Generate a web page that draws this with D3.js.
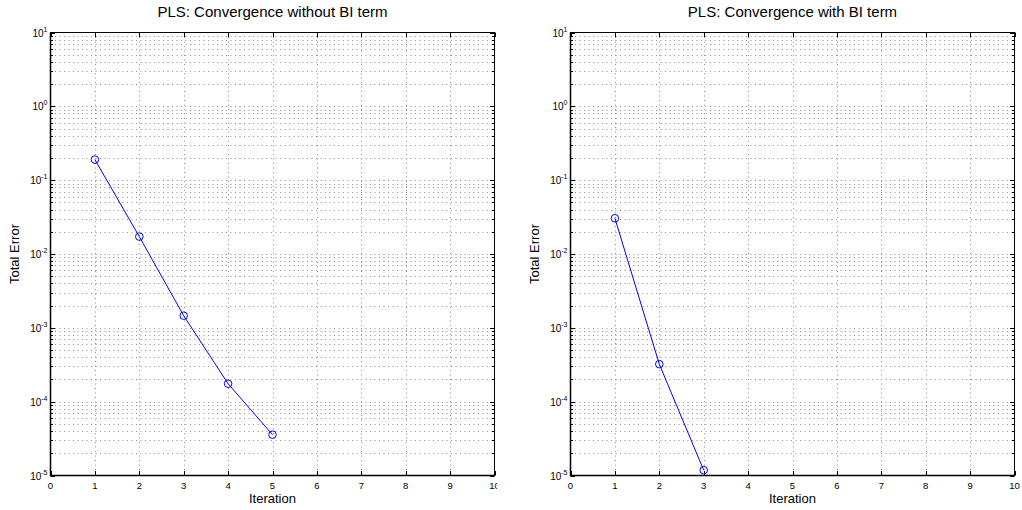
<!DOCTYPE html>
<html><head><meta charset="utf-8">
<script src="https://cdn.jsdelivr.net/npm/d3@7"></script>
<style>
body{margin:0;background:#fff;}
text{font-family:"Liberation Sans",Arial,Helvetica,sans-serif;fill:#000;}
</style></head>
<body>
<svg id="chart" width="1022" height="510"></svg>
<script>
const iterationsLeft = [1, 2, 3, 4, 5];
const errorLeft = [0.19, 0.0172, 0.00146, 0.000175, 0.0000357];
const iterationsRight = [1, 2, 3];
const errorRight = [0.0305, 0.000322, 0.0000118];
const xTicks = [0,1,2,3,4,5,6,7,8,9,10];
const yExponents = [1,0,-1,-2,-3,-4,-5];
const titles = ["PLS: Convergence without BI term", "PLS: Convergence with BI term"];
const xLabel = "Iteration";
const yLabel = "Total Error";

(function(){
const svg = d3.select("#chart");
const panels = [
  {left:50.5, right:494.5, xs:iterationsLeft, ys:errorLeft, title:titles[0], clip:497},
  {left:570.5, right:1014.5, xs:iterationsRight, ys:errorRight, title:titles[1], clip:1022}
];
const plotTop = 32.5, plotBottom = 475.5;

panels.forEach((p,i)=>{
  const x = d3.scaleLinear().domain([0,10]).range([p.left,p.right]);
  const y = d3.scaleLog().domain([1e-5,10]).range([plotBottom,plotTop]);
  const clipId = "clip"+i;
  svg.append("clipPath").attr("id",clipId).append("rect").attr("x",0).attr("y",0).attr("width",p.clip).attr("height",510);
  const g = svg.append("g").attr("clip-path",`url(#${clipId})`);

  const yGrid = [];
  for (let e=-5; e<1; e++) for (let m=1; m<=9; m++) yGrid.push(m*Math.pow(10,e));
  yGrid.push(10);
  g.append("g").selectAll("line").data(yGrid.slice(1,-1)).join("line")
    .attr("x1",p.left).attr("x2",p.right)
    .attr("y1",d=>Math.round(y(d))+0.5).attr("y2",d=>Math.round(y(d))+0.5)
    .attr("stroke","#909090").attr("stroke-width",1).attr("stroke-dasharray","1,3.5");
  g.append("g").selectAll("line").data(xTicks.slice(1,-1)).join("line")
    .attr("x1",d=>Math.round(x(d))+0.5).attr("x2",d=>Math.round(x(d))+0.5)
    .attr("y1",plotTop).attr("y2",plotBottom)
    .attr("stroke","#909090").attr("stroke-width",1).attr("stroke-dasharray","1,3.5");

  const tickLen = d=> (Math.abs(Math.log10(d) - Math.round(Math.log10(d)))<1e-9) ? 4.5 : 2.5;
  g.append("g").selectAll("line").data(yGrid).join("line")
    .attr("x1",p.left).attr("x2",d=>p.left+tickLen(d))
    .attr("y1",d=>Math.round(y(d))+0.5).attr("y2",d=>Math.round(y(d))+0.5)
    .attr("stroke","#000");
  g.append("g").selectAll("line").data(yGrid).join("line")
    .attr("x1",p.right).attr("x2",d=>p.right-tickLen(d))
    .attr("y1",d=>Math.round(y(d))+0.5).attr("y2",d=>Math.round(y(d))+0.5)
    .attr("stroke","#000");
  g.append("g").selectAll("line").data(xTicks).join("line")
    .attr("x1",d=>Math.round(x(d))+0.5).attr("x2",d=>Math.round(x(d))+0.5)
    .attr("y1",plotBottom).attr("y2",plotBottom-4.5).attr("stroke","#000");
  g.append("g").selectAll("line").data(xTicks).join("line")
    .attr("x1",d=>Math.round(x(d))+0.5).attr("x2",d=>Math.round(x(d))+0.5)
    .attr("y1",plotTop).attr("y2",plotTop+4.5).attr("stroke","#000");

  g.append("rect").attr("x",p.left).attr("y",plotTop).attr("width",p.right-p.left).attr("height",plotBottom-plotTop)
    .attr("fill","none").attr("stroke","#000").attr("stroke-width",1);
  g.append("line").attr("x1",p.left).attr("x2",p.right).attr("y1",plotBottom).attr("y2",plotBottom).attr("stroke","#000").attr("stroke-width",1.5);
  g.append("line").attr("x1",p.left).attr("x2",p.left).attr("y1",plotTop).attr("y2",plotBottom).attr("stroke","#000").attr("stroke-width",1.5);

  g.append("g").selectAll("text").data(xTicks).join("text")
    .attr("x",d=>x(d)).attr("y",488.5).attr("text-anchor","middle")
    .attr("font-size","9.5px").text(d=>d);

  const yl = g.append("g").selectAll("text").data(yExponents).join("text")
    .attr("x",p.left-3).attr("y",d=>y(Math.pow(10,d))+4).attr("text-anchor","end")
    .attr("font-size","10px");
  yl.append("tspan").text("10");
  yl.append("tspan").attr("dy",-5).attr("font-size","7px").text(d=>d);

  const line = d3.line().x(d=>x(d[0])).y(d=>y(d[1]));
  const pts = p.xs.map((v,k)=>[v,p.ys[k]]);
  g.append("path").datum(pts).attr("d",line).attr("fill","none").attr("stroke","#0000ff").attr("stroke-width",1);
  g.append("g").selectAll("circle").data(pts).join("circle")
    .attr("cx",d=>x(d[0])).attr("cy",d=>y(d[1])).attr("r",3.8)
    .attr("fill","none").attr("stroke","#0000ff").attr("stroke-width",1);

  svg.append("text").attr("x",(p.left+p.right)/2).attr("y",17).attr("text-anchor","middle")
    .attr("font-size","15px").text(p.title);
  svg.append("text").attr("x",(p.left+p.right)/2).attr("y",502.5).attr("text-anchor","middle")
    .attr("font-size","13px").text(xLabel);
  svg.append("text").attr("transform",`translate(${p.left-32},${(plotTop+plotBottom)/2}) rotate(-90)`)
    .attr("text-anchor","middle").attr("font-size","13px").text(yLabel);
});
})();
</script>
</body></html>
